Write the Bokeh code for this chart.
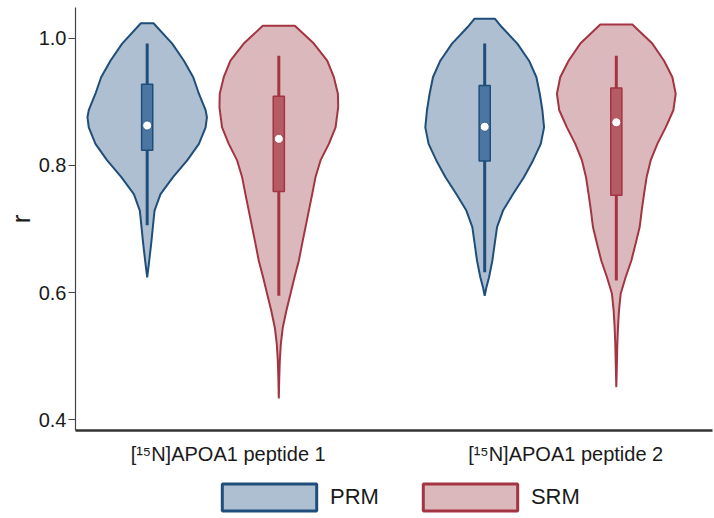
import numpy as np
from bokeh.plotting import figure
from bokeh.layouts import column
from bokeh.models import (Range1d, LinearAxis, FixedTicker, PrintfTickFormatter,
                          Legend, LegendItem, ColumnDataSource)
from bokeh.embed import file_html
from bokeh.resources import INLINE

# ---------------- data ----------------
groups = ["[¹⁵N]APOA1 peptide 1", "[¹⁵N]APOA1 peptide 2"]
methods = ["PRM", "SRM"]

# violin outlines: r levels and relative density (1 = widest)
prm1_r = [1.024, 0.992, 0.965, 0.939, 0.913, 0.887, 0.876, 0.860, 0.834, 0.808,
          0.782, 0.755, 0.729, 0.703, 0.677, 0.650, 0.624]
prm1_d = [0.106, 0.419, 0.615, 0.771, 0.866, 0.978, 1.000, 0.978, 0.866, 0.670,
          0.436, 0.223, 0.123, 0.095, 0.067, 0.034, 0.0]

srm1_r = [1.020, 0.992, 0.965, 0.939, 0.913, 0.892, 0.860, 0.834, 0.808, 0.782,
          0.755, 0.729, 0.703, 0.677, 0.650, 0.624, 0.598, 0.572, 0.545, 0.519,
          0.493, 0.467, 0.433]
srm1_d = [0.268, 0.587, 0.810, 0.922, 0.989, 0.994, 0.950, 0.838, 0.698, 0.615,
          0.559, 0.503, 0.447, 0.391, 0.335, 0.263, 0.196, 0.128, 0.067, 0.034,
          0.017, 0.008, 0.0]

prm2_r = [1.031, 1.018, 0.992, 0.965, 0.939, 0.913, 0.887, 0.860, 0.834, 0.808,
          0.782, 0.755, 0.729, 0.703, 0.677, 0.650, 0.624, 0.608, 0.595]
prm2_d = [0.173, 0.285, 0.547, 0.743, 0.866, 0.922, 0.966, 0.994, 0.939, 0.810,
          0.659, 0.475, 0.307, 0.207, 0.168, 0.128, 0.073, 0.028, 0.0]

srm2_r = [1.022, 0.992, 0.965, 0.939, 0.913, 0.887, 0.860, 0.834, 0.808, 0.782,
          0.755, 0.729, 0.703, 0.677, 0.650, 0.624, 0.598, 0.572, 0.545, 0.519,
          0.493, 0.451]
srm2_d = [0.268, 0.603, 0.799, 0.939, 0.994, 0.955, 0.827, 0.687, 0.575, 0.508,
          0.464, 0.425, 0.391, 0.324, 0.251, 0.156, 0.073, 0.045, 0.028, 0.017,
          0.011, 0.0]

# box-plot statistics, order: PRM1, SRM1, PRM2, SRM2
whisk_lo = [0.706, 0.595, 0.632, 0.619]
q1 = [0.824, 0.759, 0.807, 0.753]
median = [0.863, 0.842, 0.861, 0.868]
q3 = [0.928, 0.909, 0.926, 0.922]
whisk_hi = [0.992, 0.973, 0.992, 0.973]

# ---------------- style ----------------
FONT = "Liberation Sans"
TXT = "#1a1a1a"
LINE = {"PRM": "#1f4e7a", "SRM": "#a33441"}
FILL = {"PRM": "#adbfd1", "SRM": "#dbb8bc"}
BOXF = {"PRM": "#4a76a1", "SRM": "#b45b64"}
OFFSET = {"PRM": -0.195, "SRM": 0.195}
HALF_W = 0.177     # half width of the widest violin, in x units
BOX_W = 0.033
LABEL_SHIFT = 0.045

XR = (0.5926, 2.480)
YR = (0.3827, 1.0488)

p = figure(width=714, height=470, x_range=Range1d(*XR), y_range=Range1d(*YR),
           x_axis_location=None, output_backend="svg", toolbar_location=None,
           min_border_left=75, min_border_right=2, min_border_top=7,
           min_border_bottom=40)
p.outline_line_color = None
p.grid.visible = False

violins = [(0, "PRM", prm1_r, prm1_d), (0, "SRM", srm1_r, srm1_d),
           (1, "PRM", prm2_r, prm2_d), (1, "SRM", srm2_r, srm2_d)]

shapes = {}
for gi, m, r, d in violins:
    c = gi + 1 + OFFSET[m]
    r = np.asarray(r)
    d = np.asarray(d) * HALF_W
    xs = np.concatenate([c + d, (c - d)[::-1]])
    ys = np.concatenate([r, r[::-1]])
    p.patch(xs, ys, fill_color=FILL[m], line_color=LINE[m], line_width=2)
    shapes.setdefault(m, (xs, ys))

xc = [gi + 1 + OFFSET[m] for gi, m, _, _ in violins]
cols = [LINE[m] for _, m, _, _ in violins]
bcols = [BOXF[m] for _, m, _, _ in violins]
src = ColumnDataSource(dict(x=xc, lo=whisk_lo, q1=q1, med=median, q3=q3, hi=whisk_hi,
                            lc=cols, bc=bcols))
p.segment(x0="x", y0="lo", x1="x", y1="hi", line_color="lc", line_width=3, source=src)
p.vbar(x="x", width=BOX_W, bottom="q1", top="q3", fill_color="bc", line_color="lc",
       line_width=1.5, source=src)
p.scatter(x="x", y="med", size=9, fill_color="white", line_color="lc", line_width=0.8,
          source=src)

# y axis
ya = p.yaxis[0]
ya.ticker = FixedTicker(ticks=[0.4, 0.6, 0.8, 1.0])
ya.formatter = PrintfTickFormatter(format="%.1f")
ya.axis_label = "r"
ya.axis_label_text_font = FONT
ya.axis_label_text_font_size = "26px"
ya.axis_label_text_font_style = "normal"
ya.axis_label_text_color = TXT
ya.axis_label_standoff = 0
ya.major_label_text_font = FONT
ya.major_label_text_font_size = "20px"
ya.major_label_text_color = TXT
ya.major_label_standoff = 2
ya.major_tick_out = 7
ya.major_tick_in = 0
ya.minor_tick_out = 0
ya.minor_tick_in = 0
ya.axis_line_color = "#444444"
ya.major_tick_line_color = "#444444"
ya.axis_line_width = 1.2

# x axis with group labels
p.extra_x_ranges = {"lab": Range1d(XR[0] - LABEL_SHIFT, XR[1] - LABEL_SHIFT)}
xa = LinearAxis(x_range_name="lab", ticker=FixedTicker(ticks=[1, 2]),
                major_label_overrides={1: groups[0], 2: groups[1]})
xa.major_tick_out = 0
xa.major_tick_in = 0
xa.minor_tick_out = 0
xa.minor_tick_in = 0
xa.major_label_standoff = 12
xa.major_label_text_font = FONT
xa.major_label_text_font_size = "20px"
xa.major_label_text_color = TXT
xa.axis_line_color = "#333333"
xa.axis_line_width = 2.5
p.add_layout(xa, "below")

# legend strip (its frame is aligned with the main frame by the column layout)
q = figure(width=714, height=48, x_range=Range1d(*XR), y_range=Range1d(*YR),
           x_axis_location=None, y_axis_location=None, output_backend="svg",
           toolbar_location=None, min_border_left=75, min_border_right=2,
           min_border_top=0, min_border_bottom=0)
q.outline_line_color = None
q.grid.visible = False
items = []
for m in methods:
    xs, ys = shapes[m]
    rr = q.patch(xs, ys, fill_color=FILL[m], line_color=LINE[m], line_width=3,
                 visible=False)
    items.append(LegendItem(label=m, renderers=[rr]))
legend = Legend(items=items, orientation="horizontal", location=(135, 4),
                glyph_width=118, glyph_height=34, label_standoff=2, spacing=32,
                padding=0, margin=0, border_line_color=None,
                background_fill_alpha=0, inactive_fill_alpha=0,
                label_text_font=FONT,
                label_text_font_size="22px", label_text_color=TXT)
q.add_layout(legend)

layout = column(p, q, spacing=0)
open("out.html", "w").write(file_html(layout, INLINE))
